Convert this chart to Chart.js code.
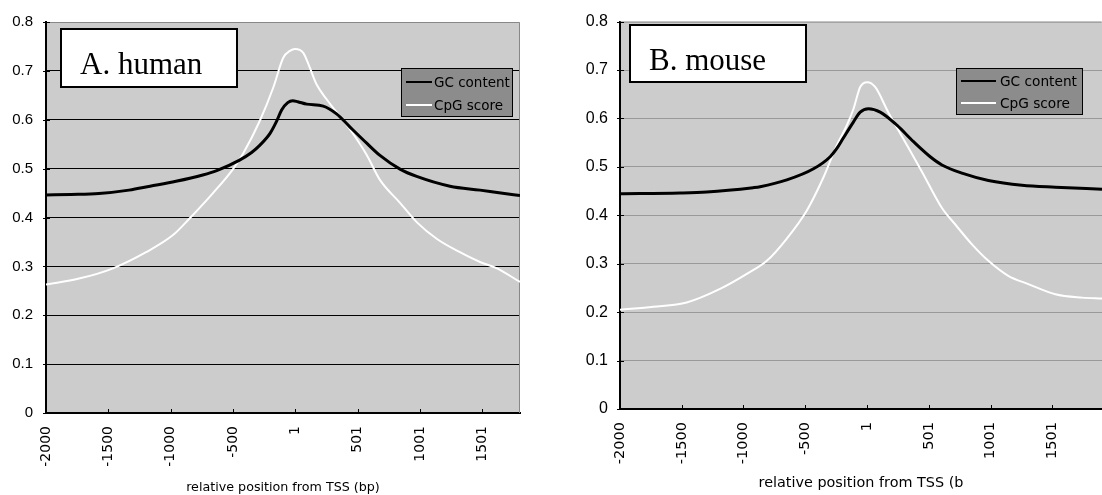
<!DOCTYPE html>
<html><head><meta charset="utf-8">
<script src="https://cdn.jsdelivr.net/npm/chart.js@4.4.1/dist/chart.umd.min.js"></script>
<style>
html,body{margin:0;padding:0;background:#fff;overflow:hidden;width:1102px;height:495px}
#pa{position:absolute;left:0;top:0;width:550px;height:495px}
#pb{position:absolute;left:560px;top:0;width:542px;height:495px}
canvas{display:block}
</style></head><body>
<div id="pa"><canvas id="ca" width="550" height="495"></canvas></div>
<div id="pb"><canvas id="cb" width="542" height="495"></canvas></div>
<script>
// ---------- data ----------
const xTickValues = [-2000, -1500, -1000, -500, 1, 501, 1001, 1501];
const yTickValues = [0, 0.1, 0.2, 0.3, 0.4, 0.5, 0.6, 0.7, 0.8];
const seriesNames = ['GC content', 'CpG score'];
const panelTitles = ['A. human', 'B. mouse'];
const axisTitles = ['relative position from TSS (bp)', 'relative position from TSS (b'];

const humanGCPos = [-2000, -1800, -1575, -1334, -1165, -957, -742, -630, -450, -350, -283, -202, -149, -109, -60, -20, 20, 92, 225, 332, 440, 574, 680, 841, 975, 1242, 1483, 1650, 1804];
const humanGCVal = [0.446, 0.447, 0.449, 0.456, 0.464, 0.474, 0.487, 0.496, 0.517, 0.533, 0.548, 0.572, 0.597, 0.620, 0.635, 0.639, 0.637, 0.632, 0.628, 0.612, 0.585, 0.552, 0.527, 0.499, 0.484, 0.464, 0.456, 0.450, 0.445];

const humanCpGPos = [-2000, -1735, -1462, -1197, -981, -852, -660, -502, -420, -282, -176, -96, -42, -2, 65, 118, 172, 252, 440, 574, 680, 841, 977, 1138, 1322, 1483, 1620, 1804];
const humanCpGVal = [0.263, 0.275, 0.296, 0.329, 0.364, 0.397, 0.450, 0.498, 0.530, 0.599, 0.666, 0.727, 0.741, 0.745, 0.737, 0.706, 0.672, 0.642, 0.580, 0.528, 0.477, 0.430, 0.390, 0.356, 0.329, 0.309, 0.296, 0.268];

const mouseGCPos = [-2000, -1514, -1297, -922, -865, -649, -433, -298, -244, -193, -109, -55, 12, 107, 242, 377, 512, 607, 769, 983, 1255, 1525, 1903];
const mouseGCVal = [0.4445, 0.446, 0.448, 0.457, 0.459, 0.473, 0.496, 0.521, 0.538, 0.559, 0.593, 0.613, 0.620, 0.613, 0.586, 0.552, 0.521, 0.504, 0.487, 0.472, 0.462, 0.458, 0.454];

const mouseCpGPos = [-2000, -1730, -1460, -1190, -973, -811, -649, -487, -355, -244, -163, -109, -55, 3, 66, 172, 310, 445, 607, 715, 850, 983, 1144, 1306, 1525, 1741, 1903];
const mouseCpGVal = [0.205, 0.211, 0.220, 0.248, 0.279, 0.306, 0.352, 0.410, 0.477, 0.545, 0.586, 0.620, 0.665, 0.675, 0.665, 0.613, 0.551, 0.490, 0.415, 0.381, 0.340, 0.306, 0.275, 0.258, 0.237, 0.230, 0.228];

// ---------- helpers ----------
function toPoints(pos, val) { return pos.map((x, i) => ({x: x, y: val[i]})); }

const panelDecor = {
  id: 'panelDecor',
  beforeDraw(chart, args, o) {
    const {ctx, chartArea: a} = chart;
    ctx.save();
    ctx.fillStyle = o.plotBg;
    ctx.fillRect(a.left, a.top, a.right - a.left, a.bottom - a.top);
    ctx.restore();
  },
  beforeDatasetsDraw(chart, args, o) {
    const {ctx, chartArea: a} = chart;
    ctx.save();
    ctx.strokeStyle = o.frameColor;
    ctx.lineWidth = 1;
    ctx.beginPath();
    ctx.moveTo(a.left, a.top + 0.5);
    ctx.lineTo(a.right - 0.5, a.top + 0.5);
    if (o.frameRight) ctx.lineTo(a.right - 0.5, a.bottom);
    ctx.stroke();
    const xs = chart.scales.x, ys = chart.scales.y;
    ctx.strokeStyle = '#000';
    ctx.lineWidth = 1;
    ctx.beginPath();
    xs.ticks.forEach(t => {
      const px = Math.round(xs.getPixelForValue(t.value)) + 0.5;
      ctx.moveTo(px, a.bottom); ctx.lineTo(px, a.bottom - o.tickLen);
    });
    ys.ticks.forEach(t => {
      const py = Math.round(ys.getPixelForValue(t.value)) + 0.5;
      ctx.moveTo(a.left - 3, py); ctx.lineTo(a.left + o.tickLen, py);
    });
    ctx.stroke();
    ctx.restore();
  },
  afterDraw(chart, args, o) {
    const ctx = chart.ctx;
    ctx.save();
    const tb = o.titleBox;
    ctx.fillStyle = '#fff';
    ctx.fillRect(tb.x, tb.y, tb.w, tb.h);
    ctx.strokeStyle = '#000';
    ctx.lineWidth = 2;
    ctx.strokeRect(tb.x + 1, tb.y + 1, tb.w - 2, tb.h - 2);
    ctx.fillStyle = '#000';
    ctx.font = tb.font;
    ctx.textAlign = 'left';
    ctx.textBaseline = 'alphabetic';
    ctx.fillText(o.title, tb.textX, tb.baseY);
    const lg = o.legend;
    ctx.fillStyle = lg.bg;
    ctx.fillRect(lg.x, lg.y, lg.w, lg.h);
    ctx.strokeStyle = '#000';
    ctx.lineWidth = 1;
    ctx.strokeRect(lg.x + 0.5, lg.y + 0.5, lg.w - 1, lg.h - 1);
    ctx.font = lg.font;
    ctx.textBaseline = 'middle';
    chart.data.datasets.forEach((ds, i) => {
      const y = lg.rowY[i];
      ctx.strokeStyle = ds.borderColor;
      ctx.lineWidth = 2;
      ctx.beginPath();
      ctx.moveTo(lg.lineX1, y); ctx.lineTo(lg.lineX2, y);
      ctx.stroke();
      ctx.fillStyle = '#000';
      ctx.fillText(ds.label, lg.textX, y + 1);
    });
    ctx.restore();
  }
};

function buildChart(canvasId, gcPts, cpgPts, xMax, st) {
  return new Chart(document.getElementById(canvasId), {
    type: 'line',
    data: {
      datasets: [
        {label: seriesNames[0], data: gcPts, borderColor: '#000', borderWidth: 3, pointRadius: 0, cubicInterpolationMode: 'monotone', fill: false},
        {label: seriesNames[1], data: cpgPts, borderColor: '#fff', borderWidth: 2, pointRadius: 0, cubicInterpolationMode: 'monotone', fill: false}
      ]
    },
    options: {
      responsive: false,
      animation: false,
      devicePixelRatio: 1,
      layout: {padding: {top: st.padTop, right: st.padRight, left: 0, bottom: 0}},
      plugins: {
        legend: {display: false},
        tooltip: {enabled: false},
        panelDecor: st.decor
      },
      scales: {
        x: {
          type: 'linear',
          min: xTickValues[0],
          max: xMax,
          afterBuildTicks: s => { s.ticks = xTickValues.map(v => ({value: v})); },
          afterFit: s => { s.height = st.xHeight; },
          grid: {display: true, drawOnChartArea: false, drawTicks: false},
          border: {display: true, color: '#000', width: 2},
          ticks: {
            autoSkip: false, minRotation: 90, maxRotation: 90, padding: st.xTickPad,
            color: '#000', font: {family: 'DejaVu Sans', size: st.xTickSize},
            callback: v => String(v)
          },
          title: {
            display: true, text: st.xTitle, color: '#000',
            font: {family: 'DejaVu Sans', size: st.xTitleSize},
            padding: {top: 0, bottom: st.xTitlePadBottom}
          }
        },
        y: {
          type: 'linear',
          min: 0, max: 0.8,
          afterBuildTicks: s => { s.ticks = yTickValues.map(v => ({value: v})); },
          afterFit: s => { s.width = st.yWidth; },
          grid: {
            drawTicks: false,
            lineWidth: 1,
            color: c => (c.tick && (c.tick.value >= 0.8 || c.tick.value <= 0)) ? 'rgba(0,0,0,0)' : st.gridColor
          },
          border: {display: true, color: '#000', width: 2},
          ticks: {
            padding: st.yTickPad, color: '#000',
            font: {family: 'Liberation Sans', size: st.yTickSize},
            callback: v => (v === 0 ? '0' : v.toFixed(1))
          }
        }
      }
    },
    plugins: [panelDecor]
  });
}

buildChart('ca', toPoints(humanGCPos, humanGCVal), toPoints(humanCpGPos, humanCpGVal), humanGCPos[humanGCPos.length - 1], {
  padTop: 17, padRight: 30, yWidth: 46, xHeight: 82,
  xTickPad: 13, xTickSize: 14, yTickPad: 13, yTickSize: 15,
  xTitle: axisTitles[0], xTitleSize: 12.7, xTitlePadBottom: 0,
  gridColor: '#000',
  decor: {
    plotBg: '#cccccc', frameColor: '#888', frameRight: true, tickLen: 4,
    title: panelTitles[0],
    titleBox: {x: 60, y: 28, w: 178, h: 60, textX: 80, baseY: 74, font: '31px "Liberation Serif"'},
    legend: {x: 401, y: 68, w: 112, h: 49, bg: '#8c8c8c', lineX1: 406, lineX2: 432, textX: 434, rowY: [82, 105], font: '13.5px "DejaVu Sans"'}
  }
});

buildChart('cb', toPoints(mouseGCPos, mouseGCVal), toPoints(mouseCpGPos, mouseCpGVal), mouseGCPos[mouseGCPos.length - 1], {
  padTop: 19, padRight: 0, yWidth: 60, xHeight: 86,
  xTickPad: 13, xTickSize: 14.5, yTickPad: 12, yTickSize: 16,
  xTitle: axisTitles[1], xTitleSize: 14.4, xTitlePadBottom: 3,
  gridColor: '#999',
  decor: {
    plotBg: '#cccccc', frameColor: '#888', frameRight: false, tickLen: 4,
    title: panelTitles[1],
    titleBox: {x: 69, y: 24, w: 178, h: 59, textX: 89, baseY: 70, font: '31px "Liberation Serif"'},
    legend: {x: 396, y: 68, w: 127, h: 47, bg: '#8c8c8c', lineX1: 401, lineX2: 436, textX: 440, rowY: [81, 103], font: '13.7px "DejaVu Sans"'}
  }
});
</script>
</body></html>
